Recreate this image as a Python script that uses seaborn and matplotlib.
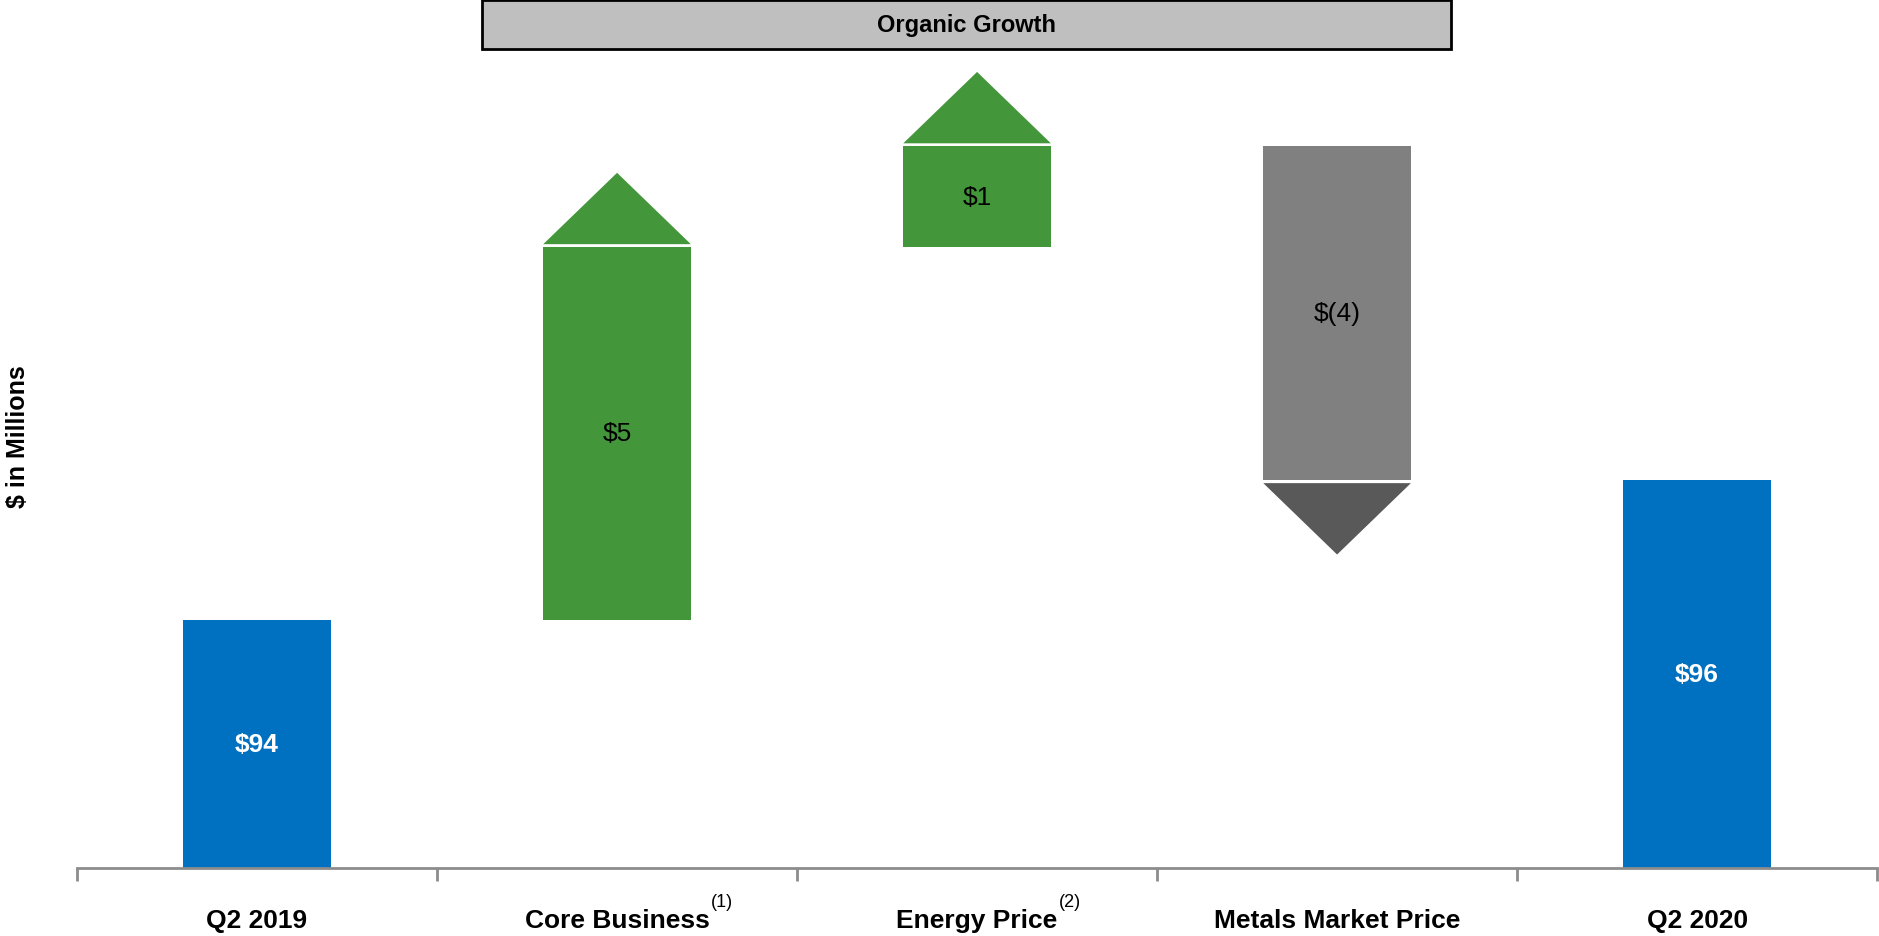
import numpy as np
import pandas as pd
import matplotlib
matplotlib.use("Agg")
import matplotlib.pyplot as plt
from matplotlib.patches import Rectangle
import seaborn as sns

# --- data ---
categories = ["Q2 2019", "Core Business", "Energy Price", "Metals Market Price", "Q2 2020"]
footnotes = ["", "(1)", "(2)", "", ""]
start_value = 94.0
changes = [4.8, 1.3, -4.3]
end_value = 95.8
value_labels = ["$94", "$5", "$1", "$(4)", "$96"]
axis_floor = 90.8   # broken axis: bars start here
axis_ceiling = 102.0
arrow_size = 0.92

bar_colors = ["#0070C0", "#43963A", "#43963A", "#808080", "#0070C0"]
arrow_colors = {1: "#43963A", -1: "#595959"}

# --- waterfall geometry ---
levels = np.cumsum([start_value] + changes)
lows = [axis_floor] + [min(a, b) for a, b in zip(levels[:-1], levels[1:])] + [axis_floor]
highs = [start_value] + [max(a, b) for a, b in zip(levels[:-1], levels[1:])] + [end_value]

df = pd.DataFrame({"category": categories, "top": highs})

sns.set_style("white")
plt.rcParams["font.family"] = ["Liberation Sans", "DejaVu Sans"]
plt.rcParams["text.color"] = "black"
plt.rcParams["xtick.color"] = "black"

fig = plt.figure(figsize=(18.79, 9.37), dpi=100)
ax = fig.add_axes([0.041, 0.0726, 0.958, 0.9274])

bar_w = 0.41
sns.barplot(data=df, x="category", y="top", hue="category", palette=bar_colors,
            legend=False, width=bar_w, saturation=1, linewidth=0, ax=ax)

# turn full bars into floating waterfall bars
for patch, lo, hi in zip(ax.patches, lows, highs):
    patch.set_y(lo)
    patch.set_height(hi - lo)

# arrow heads on the change bars
gap = 0.04
for i, ch in enumerate(changes, start=1):
    sign = 1 if ch > 0 else -1
    base = highs[i] + gap if sign > 0 else lows[i] - gap
    tip = base + sign * arrow_size
    ax.fill([i - bar_w / 2, i + bar_w / 2, i], [base, base, tip],
            color=arrow_colors[sign], linewidth=0)

# value labels
for i, (lab, lo, hi) in enumerate(zip(value_labels, lows, highs)):
    total = i in (0, len(categories) - 1)
    ax.text(i, (lo + hi) / 2, lab, ha="center", va="center",
            fontsize=19, fontweight="bold" if total else "normal",
            color="white" if total else "black")

ax.set_xlim(-0.5, len(categories) - 0.5)
ax.set_ylim(axis_floor, axis_ceiling)
ax.set_xlabel("")
ax.set_ylabel("")
ax.set_yticks([])
for side in ["top", "right", "left"]:
    ax.spines[side].set_visible(False)
ax.spines["bottom"].set_color("#8C8C8C")
ax.spines["bottom"].set_linewidth(2)

ax.set_xticks(range(len(categories)))
ax.set_xticklabels(categories, fontsize=19, fontweight="bold", color="black")
ax.set_xticks(np.arange(-0.5, len(categories)), minor=True)
ax.tick_params(axis="x", which="major", bottom=False, length=0, pad=29)
ax.tick_params(axis="x", which="minor", bottom=True, length=9, width=2,
               color="#8C8C8C", direction="out")

# "Organic Growth" banner
ax.add_patch(Rectangle((0.225, 0.9425), 0.538, 0.0563, transform=ax.transAxes,
                       facecolor="#BFBFBF", edgecolor="black", linewidth=2, clip_on=False))
ax.text(0.494, 0.971, "Organic Growth", transform=ax.transAxes, ha="center", va="center",
        fontsize=17, fontweight="bold", color="black")

fig.text(0.0096, 0.534, "$ in Millions", rotation=90, ha="center", va="center",
         fontsize=18, fontweight="bold", color="black")

# footnote superscripts next to tick labels
fig.canvas.draw()
renderer = fig.canvas.get_renderer()
inv = fig.transFigure.inverted()
for lbl, note in zip(ax.get_xticklabels(), footnotes):
    if not note:
        continue
    bb = lbl.get_window_extent(renderer)
    x, y = inv.transform((bb.x1 + 1, bb.y1 - 2))
    fig.text(x, y, note, ha="left", va="bottom", fontsize=13, color="black")

fig.savefig("out.png", dpi=100)
